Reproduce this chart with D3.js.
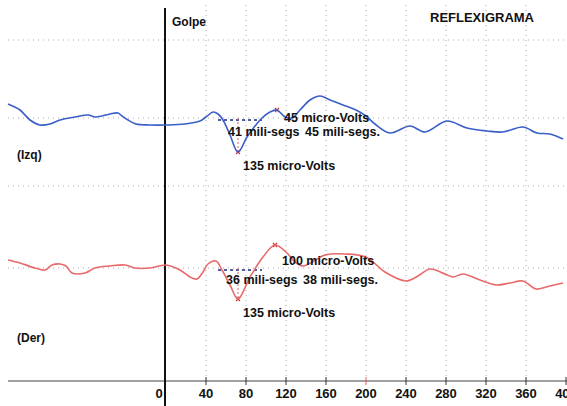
<!DOCTYPE html>
<head>
<title>Reflexigrama</title>
<style>
  body { margin: 0; background: #fff; }
  text { font-family: "Liberation Sans", Arial, sans-serif; font-weight: bold; fill: #111; }
</style>
</head>
<body>
<svg width="567" height="406" id="svg1"></svg>
<script src="https://d3js.org/d3.v7.min.js"></script>
<script>
// time in ms after the stimulus ("Golpe"), amplitude in micro-volts relative to the baseline
var izqMs = [-158,-146,-136,-126,-116,-106,-91,-78,-71,-64,-56,-48,-44,-38,-30,-16,0,19,34,40,47,52,57,64,72,81,89,96,104,111,119,126,134,144,154,164,177,190,200,209,224,244,259,281,301,321,337,357,371,384,397];
var izqUv = [56,32,-8,-28,-24,-8,4,12,4,8,16,20,8,-8,-24,-28,-28,-24,-12,4,24,16,-8,-68,-136,-76,-32,0,24,32,4,0,32,72,88,72,52,32,8,-24,-60,-32,-56,-12,-40,-52,-56,-36,-60,-64,-84];

var derMs = [-158,-146,-131,-121,-114,-106,-100,-94,-81,-71,-56,-41,-31,-16,0,14,24,31,37,42,50,56,64,72,84,97,109,121,129,137,146,159,179,200,219,240,252,264,279,287,297,314,330,344,357,370,384,397];
var derUv = [32,20,0,-8,12,16,8,-20,-20,0,8,12,0,0,12,-8,-36,-44,-16,16,28,-8,-68,-124,-36,44,92,60,24,8,24,52,56,44,-16,-52,-32,-4,-24,-36,-24,-48,-68,-60,-52,-84,-72,-60];

var ticks = [0,40,80,120,160,200,240,280,320,360,400];

// annotations: [label, ms, uV]
var izqNotes = [["45 micro-Volts",118,0],["41 mili-segs",62,-56],["45 mili-segs.",139,-56],["135 micro-Volts",77,-192]];
var derNotes = [["100 micro-Volts",116,30],["36 mili-segs",60,-48],["38 mili-segs.",137,-48],["135 micro-Volts",77,-180]];

var svg = d3.select("#svg1");

var x = d3.scaleLinear().domain([-158, 401]).range([8, 567]);
var yIzq = d3.scaleLinear().domain([-200, 200]).range([168, 68]);
var yDer = d3.scaleLinear().domain([-200, 200]).range([318, 218]);
var axisY = 381;

// grid
var grid = svg.append("g").attr("stroke", "#aaa").attr("stroke-dasharray", "1,4");
grid.selectAll(".vg").data(ticks.slice(1, 10)).enter().append("line")
  .attr("x1", function(d) { return x(d); }).attr("x2", function(d) { return x(d); })
  .attr("y1", 5).attr("y2", axisY);
grid.selectAll(".hg").data([40, yIzq(0), 186, yDer(0)]).enter().append("line")
  .attr("x1", 8).attr("x2", 567)
  .attr("y1", function(d) { return d; }).attr("y2", function(d) { return d; });

// x axis
svg.append("line").attr("x1", 8).attr("x2", 567).attr("y1", axisY).attr("y2", axisY)
  .attr("stroke", "#444").attr("stroke-width", 1.2);
svg.selectAll(".tk").data(ticks.slice(1)).enter().append("line")
  .attr("x1", function(d) { return x(d); }).attr("x2", function(d) { return x(d); })
  .attr("y1", axisY - 4).attr("y2", axisY + 4)
  .attr("stroke", function(d) { return d == 200 ? "#e06060" : "#333"; });
svg.selectAll(".tl").data(ticks).enter().append("text")
  .attr("x", function(d) { return d == 0 ? x(d) - 7 : x(d); })
  .attr("y", 398)
  .attr("text-anchor", "middle")
  .style("font-size", "13px")
  .text(function(d) { return d; });

// stimulus line
svg.append("line").attr("x1", x(0) - 1).attr("x2", x(0) - 1).attr("y1", 8).attr("y2", 406)
  .attr("stroke", "#111").attr("stroke-width", 2);

function trace(ms, uv, y, color) {
  var pts = ms.map(function(d, i) { return [d, uv[i]]; });
  var line = d3.line()
    .x(function(d) { return x(d[0]); })
    .y(function(d) { return y(d[1]); })
    .curve(d3.curveCatmullRom.alpha(0.5));
  svg.append("path").datum(pts)
    .attr("d", line)
    .attr("fill", "none")
    .attr("stroke", color)
    .attr("stroke-width", 1.6);
}

function markers(y, trough, peak) {
  svg.append("line").attr("x1", x(52)).attr("x2", x(96))
    .attr("y1", y(-8)).attr("y2", y(-8))
    .attr("stroke", "#1a2a80").attr("stroke-width", 1.5).attr("stroke-dasharray", "3,3");
  svg.append("line").attr("x1", x(trough[0])).attr("x2", x(trough[0]))
    .attr("y1", y(0)).attr("y2", y(trough[1]))
    .attr("stroke", "#e06060").attr("stroke-dasharray", "2,2");
  [trough, peak].forEach(function(p) {
    svg.append("path")
      .attr("d", "M" + (x(p[0]) - 2) + "," + (y(p[1]) - 2) + "l4,4m0,-4l-4,4")
      .attr("stroke", "#d03030").attr("stroke-width", 1.2);
  });
}

function notes(list, y) {
  svg.selectAll(null).data(list).enter().append("text")
    .attr("x", function(d) { return x(d[1]); })
    .attr("y", function(d) { return y(d[2]) + 4; })
    .attr("text-anchor", "start")
    .style("font-size", "12.5px")
    .text(function(d) { return d[0]; });
}

markers(yIzq, [72, -136], [111, 32]);
markers(yDer, [72, -124], [109, 92]);
trace(izqMs, izqUv, yIzq, "#3b5fc8");
trace(derMs, derUv, yDer, "#e86a6a");
notes(izqNotes, yIzq);
notes(derNotes, yDer);

svg.append("text").attr("x", 172).attr("y", 26).style("font-size", "12px").text("Golpe");
svg.append("text").attr("x", 430).attr("y", 22).style("font-size", "13px").text("REFLEXIGRAMA");
svg.append("text").attr("x", 17).attr("y", 159).style("font-size", "12px").text("(Izq)");
svg.append("text").attr("x", 17).attr("y", 342).style("font-size", "12px").text("(Der)");
</script>
</body>
